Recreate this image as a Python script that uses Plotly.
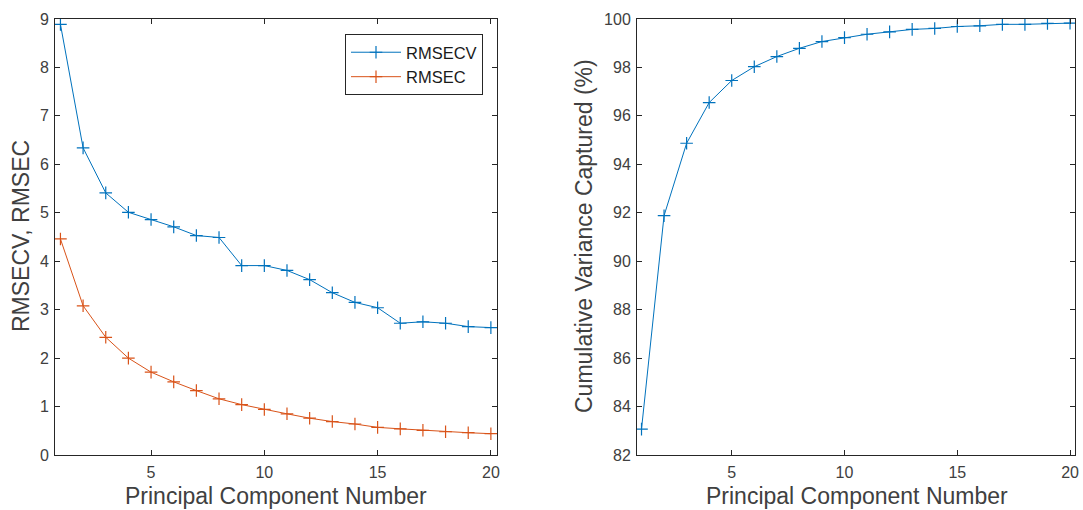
import plotly.graph_objects as go
from plotly.subplots import make_subplots

pc = list(range(1, 21))
rmsecv = [8.89, 6.34, 5.41, 5.01, 4.86, 4.71, 4.53, 4.49, 3.91, 3.91,
          3.81, 3.62, 3.35, 3.15, 3.04, 2.72, 2.75, 2.72, 2.65, 2.63]
rmsec = [4.46, 3.08, 2.43, 2.00, 1.71, 1.51, 1.33, 1.16, 1.04, 0.94,
         0.85, 0.76, 0.69, 0.64, 0.57, 0.54, 0.51, 0.48, 0.46, 0.44]
cumvar = [83.07, 91.88, 94.87, 96.55, 97.46, 98.03, 98.45, 98.79, 99.07, 99.23,
          99.37, 99.47, 99.57, 99.61, 99.69, 99.72, 99.78, 99.78, 99.82, 99.83]

left_yticks = list(range(0, 10))
right_yticks = list(range(82, 101, 2))
xticks = [5, 10, 15, 20]

BLUE = "#0072BD"
ORANGE = "#D95319"
AX = "#262626"
TXT = "#404040"
FONT = "Liberation Sans, Arial, sans-serif"
W, H = 1083, 510

fig = make_subplots(rows=1, cols=2)

def mk(y, name, color, show):
    return go.Scatter(
        x=pc, y=y, name=name, mode="lines+markers", showlegend=show,
        line=dict(color=color, width=1),
        marker=dict(symbol="cross-thin", size=9, color=color,
                    line=dict(color=color, width=1.2)),
    )

fig.add_trace(mk(rmsecv, "RMSECV", BLUE, True), row=1, col=1)
fig.add_trace(mk(rmsec, "RMSEC", ORANGE, True), row=1, col=1)
fig.add_trace(mk(cumvar, "Cumulative", BLUE, False), row=1, col=2)

axis_common = dict(
    showline=True, linecolor=AX, linewidth=1, mirror="ticks",
    ticks="inside", ticklen=5, tickwidth=1, tickcolor=AX,
    showgrid=False, zeroline=False, automargin=False,
    tickfont=dict(family=FONT, size=16, color=TXT),
)
title_font = dict(family=FONT, size=23, color=TXT)

fig.update_xaxes(**axis_common)
fig.update_yaxes(**axis_common)

ydom = [1 - 455/H, 1 - 19/H]
fig.update_xaxes(row=1, col=1, domain=[55/W, 497/W], range=[0.76, 20.27],
                 tickvals=xticks, ticklabelstandoff=3)
fig.update_xaxes(row=1, col=2, domain=[637/W, 1075/W], range=[0.8, 20.22],
                 tickvals=xticks, ticklabelstandoff=3)
fig.update_yaxes(row=1, col=1, domain=ydom, range=[0, 9], tickvals=left_yticks,
                 ticklabelstandoff=2)
fig.update_yaxes(row=1, col=2, domain=ydom, range=[82, 100], tickvals=right_yticks,
                 ticklabelstandoff=2)

titles = [
    ("Principal Component Number", 276, 496, 0),
    ("Principal Component Number", 857, 496, 0),
    ("RMSECV, RMSEC", 21, 236, -90),
    ("Cumulative Variance Captured (%)", 584, 236, -90),
]
for text, px, py, ang in titles:
    fig.add_annotation(text=text, x=px / W, y=1 - py / H, xref="paper", yref="paper",
                       xanchor="center", yanchor="middle", showarrow=False,
                       textangle=ang, font=title_font)

fig.update_layout(
    width=W, height=H,
    margin=dict(l=0, r=0, t=0, b=0),
    paper_bgcolor="white", plot_bgcolor="white",
    font=dict(family=FONT, color=TXT),
    legend=dict(
        x=483/W, y=1-34/H, xanchor="right", yanchor="top",
        bgcolor="white", bordercolor=AX, borderwidth=1,
        font=dict(family=FONT, size=16.5, color="#1a1a1a"),
        tracegroupgap=0, itemwidth=50,
    ),
)

fig.write_html("out.html", config={"displayModeBar": False},
               post_script="document.body.style.margin='0';")
